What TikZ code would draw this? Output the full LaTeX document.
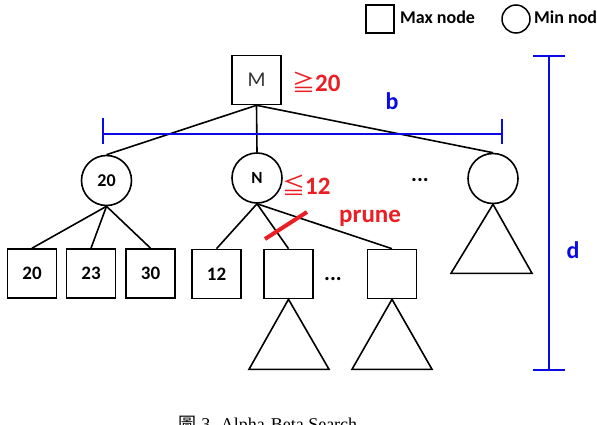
\documentclass[tikz,border=0pt]{standalone}
\usepackage{fontspec}
\setmainfont{Carlito}
\newfontfamily\capfont{Liberation Serif}
\newfontfamily\cjkfont{Noto Sans CJK TC}
\definecolor{pred}{RGB}{235,30,36}
\definecolor{pblue}{RGB}{10,10,230}
\tikzset{
  edge/.style={line width=1.6pt, black},
  maxn/.style={draw, line width=1.6pt, minimum size=49pt, inner sep=0pt, font=\fontsize{19}{19}\selectfont\bfseries},
  minn/.style={draw, circle, line width=1.6pt, minimum size=50pt, inner sep=0pt, font=\fontsize{18}{18}\selectfont\bfseries},
  redlab/.style={text=pred, font=\fontsize{25}{25}\selectfont\bfseries, inner sep=0pt},
  bluelab/.style={text=pblue, font=\fontsize{24}{24}\selectfont\bfseries, inner sep=0pt},
  measure/.style={pblue, line width=1.8pt},
  dots/.style={font=\fontsize{22}{22}\selectfont\bfseries, inner sep=0pt, anchor=base},
}
\begin{document}
\begin{tikzpicture}[x=1pt,y=-1pt]
\clip (0,0) rectangle (597,425);
\fill[white] (0,0) rectangle (597,425);
% legend
\node[draw, line width=1.5pt, minimum size=28pt, inner sep=0pt] (lsq) at (380,19) {};
\node[anchor=west, inner sep=0pt, font=\fontsize{18}{18}\selectfont\bfseries] (lmax) at (400,17) {Max node};
\node[draw, circle, line width=1.5pt, minimum size=28pt, inner sep=0pt] (lci) at (516,19) {};
\node[anchor=west, inner sep=0pt, font=\fontsize{18}{18}\selectfont\bfseries] (lmin) at (534,17) {Min node};
% root
\node[maxn, font=\fontsize{21}{21}\selectfont, text=black!80] (M) at (256.5,80) {M};
\node[redlab, anchor=west] (ge) at (292,82) {{\cjkfont\fontsize{23}{23}\selectfont\mdseries ≧}20};
% level 1
\node[minn] (c1) at (106.5,180.5) {20};
\node[minn, font=\fontsize{17}{17}\selectfont\bfseries] (c2) at (257,178) {N};
\node[minn] (c3) at (493,178.5) {};
\node[redlab, anchor=west] (le) at (282,185) {{\cjkfont\fontsize{23}{23}\selectfont\mdseries ≦}12};
\node[dots] (d1) at (420,182) {...};
% level 2
\node[maxn] (s1) at (32,273.5) {20};
\node[maxn] (s2) at (91,273.5) {23};
\node[maxn] (s3) at (150.5,273.5) {30};
\node[maxn] (s4) at (216.5,274) {12};
\node[maxn] (s5) at (288.5,274) {};
\node[maxn] (s6) at (392,274) {};
\node[dots] (d2) at (333,280) {...};
% edges
\draw[edge] (M.south) -- (c1.north);
\draw[edge] (M.south) -- (c2.north);
\draw[edge] (M.south) -- (c3.north);
\draw[edge] (c1.south) -- (s1.north);
\draw[edge] (c1.south) -- (s2.north);
\draw[edge] (c1.south) -- (s3.north);
\draw[edge] (c2.south) -- (s4.north);
\draw[edge] (c2.south) -- (s5.north);
\draw[edge] (c2.south) -- (s6.north);
% subtrees
\draw[edge, line join=miter] (s5.south) -- ++(-39.5,70) -- ++(80,0) -- cycle;
\draw[edge, line join=miter] (s6.south) -- ++(-40,70) -- ++(80,0) -- cycle;
\draw[edge, line join=miter] (c3.south) -- ++(-42,69) -- ++(81,0) -- cycle;
% prune
\draw[pred, line width=4pt] (265,239) -- (307,212);
\node[redlab, anchor=west] (pr) at (339,218) {prune};
% b measure
\draw[measure] (103,134) -- (502,134);
\draw[measure] (103,118) -- (103,144);
\draw[measure] (502,119) -- (502,144);
\node[bluelab] (b) at (392,101) {b};
% d measure
\draw[measure] (549,56) -- (549,370);
\draw[measure] (533,56) -- (565,56);
\draw[measure] (533,370) -- (565,370);
\node[bluelab] (d) at (573,250) {d};
% caption
\node[anchor=base, inner sep=0pt, font=\fontsize{18}{18}\selectfont\capfont] (cap) at (268,430) {{\cjkfont 圖} 3. Alpha-Beta Search};
\end{tikzpicture}
\end{document}
